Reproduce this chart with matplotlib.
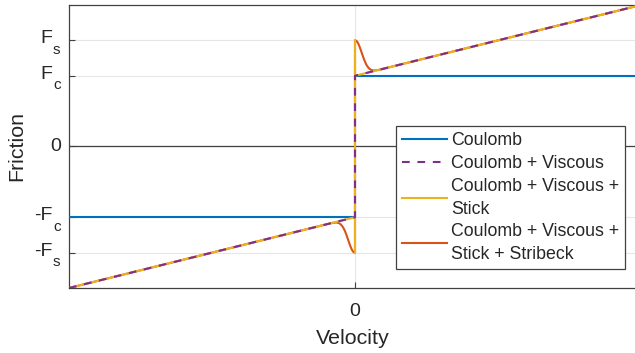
import numpy as np
import matplotlib
matplotlib.use("Agg")
import matplotlib.pyplot as plt
from matplotlib.transforms import offset_copy

plt.rcParams["font.family"] = ["Liberation Sans", "DejaVu Sans"]

# Friction levels
Fc = 1.0   # Coulomb
Fs = 1.5   # static (breakaway)

# Coulomb only
coulomb_v = [-1.0, 0.0, 0.0, 1.0]
coulomb_F = [-1.0, -1.0, 1.0, 1.0]

# Coulomb + viscous
viscous_v = [-1.0, 0.0, 0.0, 1.0]
viscous_F = [-2.0, -1.0, 1.0, 2.0]

# Coulomb + viscous + stick (vertical segment spans -Fs..Fs at rest)
stick_v = [-1.0, 0.0, 0.0, 0.0, 0.0, 1.0]
stick_F = [-2.0, -1.0, -1.5, 1.5, 1.0, 2.0]

# Coulomb + viscous + stick + Stribeck, positive-velocity branch
stribeck_v = [0.0, 0.005, 0.010, 0.015, 0.020, 0.025, 0.030, 0.035, 0.040,
              0.045, 0.050, 0.055, 0.060, 0.065, 0.070, 0.080, 0.090, 1.0]
stribeck_F = [1.500, 1.494, 1.466, 1.422, 1.366, 1.307, 1.249, 1.197, 1.155,
              1.123, 1.100, 1.086, 1.078, 1.075, 1.076, 1.081, 1.090, 2.0]

# odd symmetry: negative branch mirrors the positive one
sv = np.array(stribeck_v)
sF = np.array(stribeck_F)
strib_v = np.concatenate([-sv[::-1], sv])
strib_F = np.concatenate([-sF[::-1], sF])

# y tick labels: main part and subscript
ytick_vals = [-Fs, -Fc, 0, Fc, Fs]
ytick_main = ["-F", "-F", "0", "F", "F"]
ytick_sub = ["s", "c", "", "c", "s"]
xtick_vals = [0]
xtick_labels = ["0"]

legend_labels = ["Coulomb", "Coulomb + Viscous",
                 "Coulomb + Viscous +\nStick",
                 "Coulomb + Viscous +\nStick + Stribeck"]

BLUE = "#0072BD"
ORANGE = "#D95319"
YELLOW = "#EDB120"
PURPLE = "#7E2F8E"
AXC = "#404040"
TXT = "#262626"

W, H = 635, 353
DPI = 100
PT = 72 / DPI  # points per pixel
fig = plt.figure(figsize=(W / DPI, H / DPI), dpi=DPI)
ax = fig.add_axes([69 / W, 1 - 288 / H, (641 - 69) / W, (288 - 5) / H])

lw = 1.5
l_orange, = ax.plot(strib_v, strib_F, color=ORANGE, lw=lw, zorder=2)
l_blue, = ax.plot(coulomb_v, coulomb_F, color=BLUE, lw=lw, zorder=3)
l_yellow, = ax.plot(stick_v, stick_F, color=YELLOW, lw=lw, zorder=4)
l_purple, = ax.plot(viscous_v, viscous_F, color=PURPLE, lw=lw, zorder=5,
                    dashes=(3.7, 3.7))

ax.axhline(0, color=AXC, lw=0.9, zorder=1.5)

ax.set_xlim(-1, 1)
ax.set_ylim(-2, 2)
ax.set_yticks(ytick_vals)
ax.set_yticklabels([""] * len(ytick_vals))
ax.set_xticks(xtick_vals)
ax.set_xticklabels(xtick_labels)
ax.tick_params(direction="in", length=4, width=0.8, color=AXC,
               labelsize=14, labelcolor=TXT)
ax.tick_params(axis="x", pad=10.5)
ax.grid(True, color="#e6e6e6", lw=0.8, zorder=0)
ax.set_axisbelow(True)
for s in ax.spines.values():
    s.set_color(AXC)
    s.set_linewidth(0.9)

# y tick labels with dropped subscripts
ytr = ax.get_yaxis_transform()
for val, main, sub in zip(ytick_vals, ytick_main, ytick_sub):
    if sub:
        tm = offset_copy(ytr, fig=fig, x=-16.5 * PT, y=-3.0 * PT, units="points")
        ax.text(0, val, main, transform=tm, ha="right", va="baseline",
                fontsize=14, color=TXT)
        ts = offset_copy(ytr, fig=fig, x=-16.0 * PT, y=-13.6 * PT, units="points")
        ax.text(0, val, sub, transform=ts, ha="left", va="baseline",
                fontsize=11, color=TXT)
    else:
        tm = offset_copy(ytr, fig=fig, x=-7.5 * PT, y=0, units="points")
        ax.text(0, val, main, transform=tm, ha="right", va="center",
                fontsize=14, color=TXT)

ax.set_xlabel("Velocity", fontsize=15.4, color=TXT, va="baseline")
ax.xaxis.set_label_coords(0.4965, (288 - 344) / 283)
ax.set_ylabel("Friction", fontsize=15.4, color=TXT, va="baseline")
ax.yaxis.set_label_coords((22 - 69) / 572, 0.5)

leg = ax.legend([l_blue, l_purple, l_yellow, l_orange], legend_labels,
                loc="upper left", bbox_to_anchor=(396 / W, 1 - 126 / H),
                bbox_transform=fig.transFigure, borderaxespad=0,
                fontsize=12.75, frameon=True, fancybox=False, framealpha=1,
                edgecolor=AXC, handlelength=2.54, handletextpad=0.2,
                borderpad=0.36, labelspacing=0.32)
leg.get_frame().set_linewidth(0.9)
for t in leg.get_texts():
    t.set_color(TXT)
    t.set_linespacing(1.45)

fig.savefig("out.png", dpi=DPI)
